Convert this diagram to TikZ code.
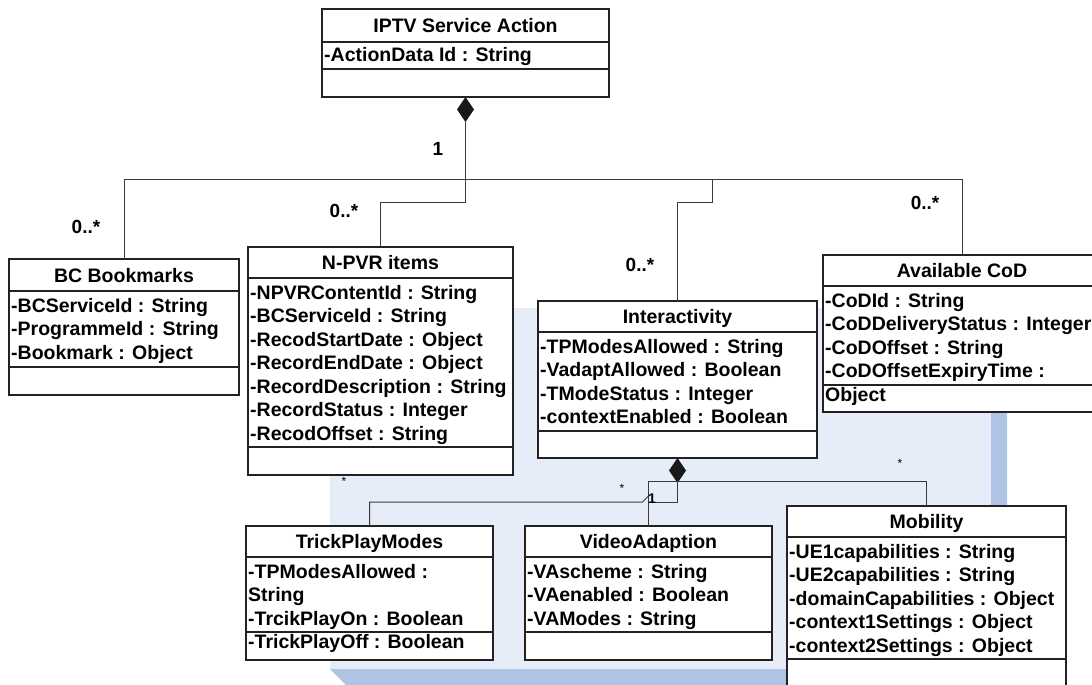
\documentclass[tikz,border=0pt]{standalone}
\usepackage{fontspec}
\setmainfont{Liberation Sans}
\usetikzlibrary{calc,shapes.geometric}
\definecolor{bglight}{HTML}{E6EDF8}
\definecolor{bgdark}{HTML}{AFC4E4}
\definecolor{linec}{HTML}{3A3A3A}
\definecolor{boxc}{HTML}{222222}
\tikzset{
  clsbox/.style={draw=boxc, line width=1.3pt, fill=white, inner sep=0pt, outer sep=0pt},
  clsline/.style={draw=boxc, line width=1.3pt},
  clstitle/.style={font=\fontsize{19.5}{23.5}\selectfont\bfseries, inner sep=0pt},
  clsattr/.style={font=\fontsize{19.5}{23.5}\selectfont\bfseries, inner sep=0pt},
  conn/.style={draw=linec, line width=1pt},
  mult/.style={font=\fontsize{19}{22}\selectfont\bfseries, inner sep=0pt},
  smallmult/.style={font=\fontsize{12}{14}\selectfont, inner sep=0pt},
  diam/.style={diamond, fill=black!90, draw=none, minimum width=17pt, minimum height=25pt, inner sep=0pt, outer sep=0pt},
}
\newcommand\umlclass[8]{%
  \node[clsbox, minimum width=#4pt, minimum height=#7pt, anchor=north west] (#1) at (#2,#3) {};
  \draw[clsline] ($(#1.north west)+(0,#5)$) -- ($(#1.north east)+(0,#5)$);
  \draw[clsline] ($(#1.north west)+(0,#6)$) -- ($(#1.north east)+(0,#6)$);
  \node[clstitle, anchor=base] (#1-t) at ($(#1.north)+(0,{#5/2+7})$) {#8};
}
\newcommand\umlattrs[3]{%
  \foreach \txt [count=\i] in {#3} {
    \node[clsattr, anchor=base west] (#1-a\i) at ($(#1.north west)+(2,{#2+23.5*\i-23.5})$) {\txt};
  }
}
\begin{document}
\begin{tikzpicture}[x=1pt,y=-1pt]
\useasboundingbox (0,0) rectangle (1092,685);
\clip (0,0) rectangle (1092,685);
\fill[white] (0,0) rectangle (1092,685);
% background panel
\fill[bgdark] (330,669) -- (362,701) -- (1007,701) -- (1007,324) -- (991,308) -- cycle;
\fill[bglight] (330,308) rectangle (991,669);
% named anchor coordinates for connector elbows
\coordinate (bus) at (0,179);
\coordinate (el1) at (0,202);
\coordinate (j2) at (712,202);
\coordinate (j3) at (0,502);
\coordinate (j4) at (0,481);
% classes
\umlclass{iptv}{322}{9}{287}{33}{60}{88}{IPTV Service Action}
\umlattrs{iptv}{53}{-ActionData Id : String}
\umlclass{bc}{9}{259}{230}{32}{108}{136}{BC Bookmarks}
\umlattrs{bc}{53}{-BCServiceId : String,-ProgrammeId : String,-Bookmark : Object}
\umlclass{npvr}{248}{247}{265}{31}{200}{228}{N-PVR items}
\umlattrs{npvr}{52}{-NPVRContentId : String,-BCServiceId : String,-RecodStartDate : Object,-RecordEndDate : Object,-RecordDescription : String,-RecordStatus : Integer,-RecodOffset : String}
\umlclass{inter}{538}{301}{279}{31}{130}{157}{Interactivity}
\umlattrs{inter}{52}{-TPModesAllowed : String,-VadaptAllowed : Boolean,-TModeStatus : Integer,-contextEnabled : Boolean}
\umlclass{cod}{823}{255}{278}{31}{130}{157}{Available CoD}
\umlattrs{cod}{52}{-CoDId : String,-CoDDeliveryStatus : Integer,-CoDOffset : String,-CoDOffsetExpiryTime :,Object}
\umlclass{trick}{246}{526}{247}{31}{106}{134}{TrickPlayModes}
\umlattrs{trick}{52}{-TPModesAllowed :,String,-TrcikPlayOn : Boolean,-TrickPlayOff : Boolean}
\umlclass{video}{525}{526}{247}{31}{106}{134}{VideoAdaption}
\umlattrs{video}{52}{-VAscheme : String,-VAenabled : Boolean,-VAModes : String}
\umlclass{mob}{787}{506}{279}{31}{153}{200}{Mobility}
\umlattrs{mob}{52}{-UE1capabilities : String,-UE2capabilities : String,-domainCapabilities : Object,-context1Settings : Object,-context2Settings : Object}
% composition diamonds
\node[diam, anchor=north] (iptv-d) at (iptv.south) {};
\node[diam, anchor=north] (inter-d) at (inter.south) {};
% connectors
\draw[conn] (iptv-d.south) -- (iptv-d.south |- el1) -| (npvr.north);
\draw[conn] (bc.north) -- (bc.north |- bus) -| (cod.north);
\draw[conn] (inter.north) |- (j2) -- (j2 |- bus);
\draw[conn] (inter-d.south) -- (inter-d.south |- j3) -- (video.north |- j3);
\draw[conn] (video.north) -- (video.north |- j4) -| (mob.north);
\draw[conn] (trick.north) |- ($(video.north |- j3)+(-6,0)$) -- ++(6,-6);
% multiplicities
\node[mult, anchor=base] (m-iptv) at (438,155) {1};
\node[mult, anchor=base] (m-bc) at (86,233) {0..*};
\node[mult, anchor=base] (m-npvr) at (344,217) {0..*};
\node[mult, anchor=base] (m-inter) at (640,271) {0..*};
\node[mult, anchor=base] (m-cod) at (925,209) {0..*};
\node[smallmult, anchor=base] (s-npvr) at (344,485) {*};
\node[smallmult, anchor=base] (s-trick) at (622,492) {*};
\node[smallmult, anchor=base] (s-mob) at (900,467) {*};
\node[font=\fontsize{14}{16}\selectfont\bfseries, inner sep=0pt, anchor=base] (s-video) at (652,503) {1};
\end{tikzpicture}
\end{document}
